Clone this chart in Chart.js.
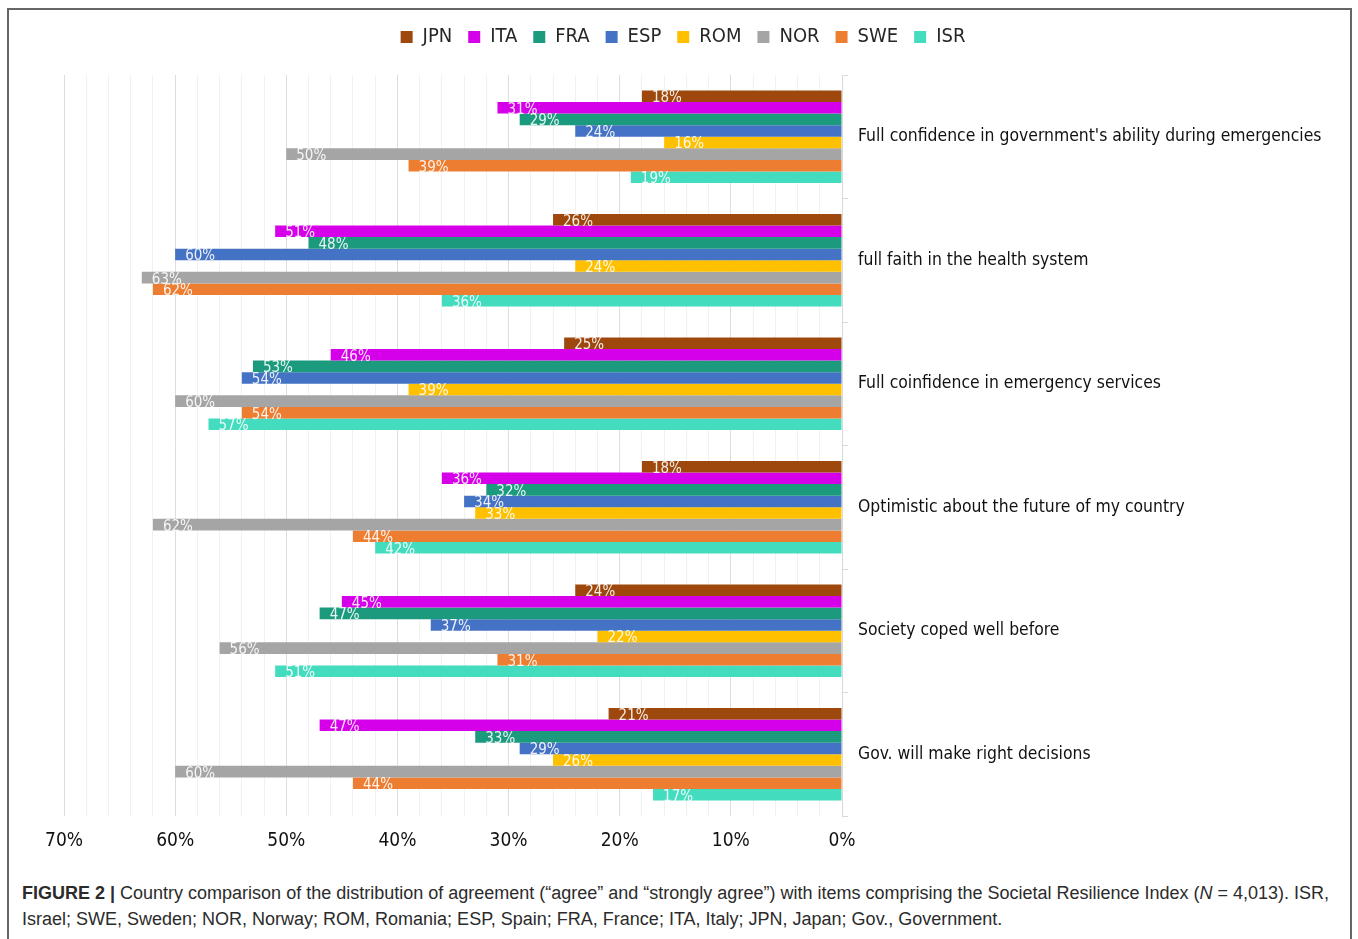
<!DOCTYPE html>
<html>
<head>
<meta charset="utf-8">
<script src="https://cdn.jsdelivr.net/npm/chart.js@4.4.1/dist/chart.umd.min.js"></script>
<style>
  body { margin: 0; background: #fff; width: 1358px; height: 939px; overflow: hidden; position: relative; }
  #frame { position: absolute; left: 7px; top: 8px; width: 1341px; height: 940px; border: 2px solid #666; border-bottom: none; }
  #wrap { position: absolute; left: 8px; top: 9px; width: 1340px; height: 852px; }
  #caption { position: absolute; left: 22px; top: 880px; width: 1322px; font-family: "Liberation Sans", Arial, sans-serif; font-size: 18px; line-height: 26px; color: #2b2b2b; }
  #caption b { font-weight: bold; }
</style>
</head>
<body>
<div id="frame"></div>
<div id="wrap"><canvas id="chart"></canvas></div>
<div id="caption"><b>FIGURE 2 |</b> Country comparison of the distribution of agreement (“agree” and “strongly agree”) with items comprising the Societal Resilience Index (<i>N</i> = 4,013). ISR, Israel; SWE, Sweden; NOR, Norway; ROM, Romania; ESP, Spain; FRA, France; ITA, Italy; JPN, Japan; Gov., Government.</div>
<script>
const categories = [
  "Full confidence in government's ability during emergencies",
  'full faith in the health system',
  'Full coinfidence in emergency services',
  'Optimistic about the future of my country',
  'Society coped well before',
  'Gov. will make right decisions'
];
const countries = ['JPN', 'ITA', 'FRA', 'ESP', 'ROM', 'NOR', 'SWE', 'ISR'];
const colors = ['#9e480e', '#d500e9', '#1b9a7e', '#4472c4', '#ffc000', '#a5a5a5', '#ed7d31', '#43dcbe'];

const jpn = [18, 26, 25, 18, 24, 21];
const ita = [31, 51, 46, 36, 45, 47];
const fra = [29, 48, 53, 32, 47, 33];
const esp = [24, 60, 54, 34, 37, 29];
const rom = [16, 24, 39, 33, 22, 26];
const nor = [50, 63, 60, 62, 56, 60];
const swe = [39, 62, 54, 44, 31, 44];
const isr = [19, 36, 57, 42, 51, 17];
const seriesValues = [jpn, ita, fra, esp, rom, nor, swe, isr];

const tickLabels = ['0%', '10%', '20%', '30%', '40%', '50%', '60%', '70%'];

const labelFont = '"DejaVu Sans Condensed", "DejaVu Sans", sans-serif';

// legend block height is fixed so the plot area starts where it does in the figure
const legendHeight = {
  id: 'legendHeight',
  afterInit(chart) {
    const fit = chart.legend.fit;
    chart.legend.fit = function () {
      fit.call(this);
      this.height = 64;
    };
  }
};

// percentage labels inside the left end of every bar
const barLabels = {
  id: 'barLabels',
  afterDatasetsDraw(chart) {
    const ctx = chart.ctx;
    ctx.save();
    ctx.font = '15px ' + labelFont;
    ctx.fillStyle = 'rgba(255,255,255,0.9)';
    ctx.textAlign = 'left';
    ctx.textBaseline = 'middle';
    chart.data.datasets.forEach((ds, i) => {
      chart.getDatasetMeta(i).data.forEach((bar, j) => {
        ctx.fillText(ds.data[j] + '%', bar.x + 10, bar.y + 2);
      });
    });
    ctx.restore();
  }
};

const ctx = document.getElementById('chart').getContext('2d');
new Chart(ctx, {
  type: 'bar',
  data: {
    labels: categories,
    datasets: countries.map((c, i) => ({
      label: c,
      data: seriesValues[i],
      backgroundColor: colors[i],
      borderWidth: 0,
      categoryPercentage: 0.75,
      barPercentage: 1.0
    }))
  },
  options: {
    indexAxis: 'y',
    responsive: true,
    maintainAspectRatio: false,
    animation: false,
    layout: { padding: { left: 10, top: 2, right: 0, bottom: 0 } },
    plugins: {
      tooltip: { enabled: false },
      legend: {
        position: 'top',
        labels: {
          font: { family: labelFont, size: 20 },
          color: '#262626',
          boxWidth: 12,
          boxHeight: 12,
          padding: 16
        }
      }
    },
    scales: {
      x: {
        reverse: true,
        min: 0,
        max: 70,
        border: { display: false },
        grid: {
          drawTicks: false,
          color: c => (c.tick && c.tick.value % 10 === 0) ? '#dedede' : '#f1f1f1'
        },
        ticks: {
          stepSize: 2,
          autoSkip: false,
          maxRotation: 0,
          padding: 14,
          color: '#111',
          font: { family: labelFont, size: 19 },
          callback: v => (v % 10 === 0 ? tickLabels[v / 10] : '')
        },
        afterFit: s => { s.height = 45; }
      },
      y: {
        position: 'right',
        border: { color: '#d9d9d9' },
        grid: { drawOnChartArea: false, drawTicks: true, tickLength: 6, color: '#d9d9d9' },
        ticks: {
          padding: 10,
          color: '#111',
          font: { family: labelFont, size: 17.4 }
        },
        afterFit: s => { s.width = 506; }
      },
      // empty spacer on the left so the legend stays centred on the figure
      spacer: {
        type: 'category',
        axis: 'y',
        position: 'left',
        border: { display: false },
        grid: { display: false },
        ticks: { display: false },
        afterFit: s => { s.width = 46; }
      }
    }
  },
  plugins: [legendHeight, barLabels]
});
</script>
</body>
</html>
